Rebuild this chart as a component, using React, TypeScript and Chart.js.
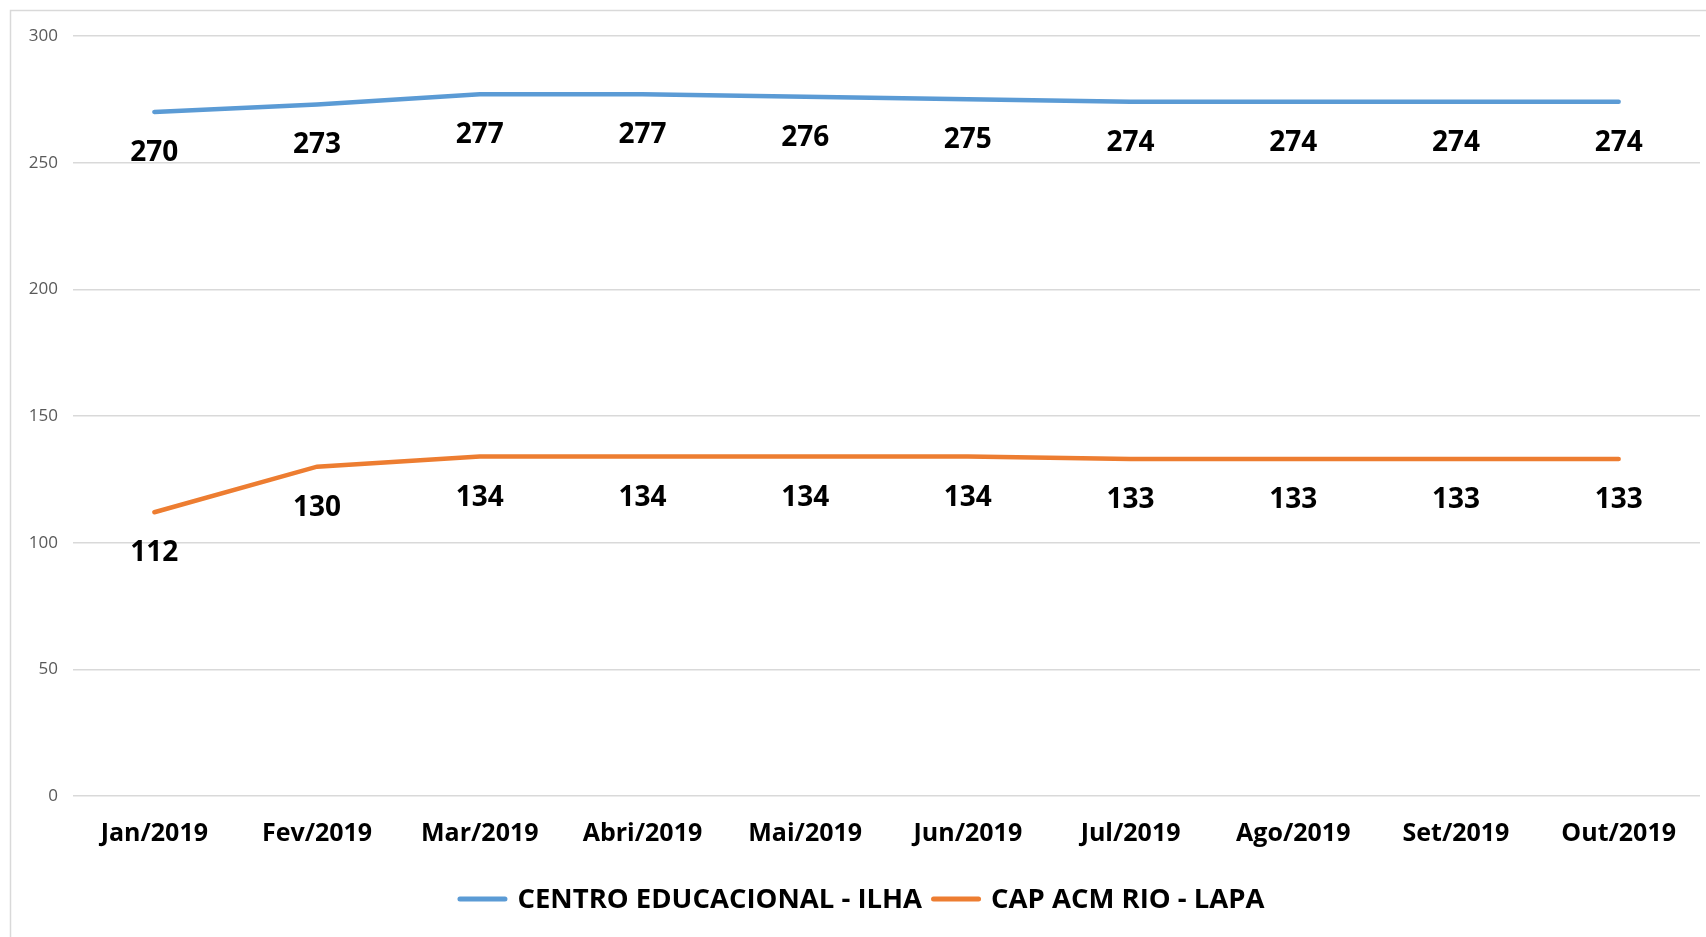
import React, { useEffect, useRef } from "react";
import { Chart, registerables } from "chart.js";

Chart.register(...registerables);

const months = ["Jan/2019", "Fev/2019", "Mar/2019", "Abri/2019", "Mai/2019", "Jun/2019", "Jul/2019", "Ago/2019", "Set/2019", "Out/2019"];
const seriesIlhaName = "CENTRO EDUCACIONAL - ILHA";
const seriesIlha = [270, 273, 277, 277, 276, 275, 274, 274, 274, 274];
const seriesLapaName = "CAP ACM RIO - LAPA";
const seriesLapa = [112, 130, 134, 134, 134, 134, 133, 133, 133, 133];
const yTicks = [0, 50, 100, 150, 200, 250, 300];

const FONT = "'Open Sans', 'Liberation Sans', sans-serif";

const framePlugin = {
  id: "frame",
  beforeDraw(chart: any) {
    const ctx = chart.ctx;
    ctx.save();
    ctx.fillStyle = "#ffffff";
    ctx.fillRect(0, 0, chart.width, chart.height);
    ctx.strokeStyle = "#d9d9d9";
    ctx.lineWidth = 1.5;
    ctx.strokeRect(10.5, 10.5, chart.width + 50, chart.height + 50);
    ctx.restore();
  },
};

const valueLabels = {
  id: "valueLabels",
  afterDatasetsDraw(chart: any) {
    const ctx = chart.ctx;
    ctx.save();
    ctx.font = `bold 28px ${FONT}`;
    ctx.fillStyle = "#000000";
    ctx.textAlign = "center";
    ctx.textBaseline = "middle";
    chart.data.datasets.forEach((ds: any, i: number) => {
      const meta = chart.getDatasetMeta(i);
      meta.data.forEach((pt: any, j: number) => {
        ctx.fillText(String(ds.data[j]), pt.x, pt.y + 41);
      });
    });
    ctx.restore();
  },
};

// Custom legend drawn below the axis labels
const customLegend = {
  id: "customLegend",
  afterDraw(chart: any) {
    const ctx = chart.ctx;
    ctx.save();
    ctx.font = `bold 27.5px ${FONT}`;
    ctx.textBaseline = "middle";
    ctx.textAlign = "left";
    const boxW = 50;
    const gapBoxText = 10;
    const gapItems = 9;
    const items = chart.data.datasets.map((ds: any) => ({
      label: ds.label,
      color: ds.borderColor,
      w: boxW + gapBoxText + ctx.measureText(ds.label).width,
    }));
    const total = items.reduce((a: number, it: any) => a + it.w, 0) + gapItems * (items.length - 1);
    const cx = (10 + chart.width) / 2 + 3;
    let x = cx - total / 2;
    const y = chart.chartArea.bottom + 103;
    items.forEach((it: any) => {
      ctx.strokeStyle = it.color;
      ctx.lineWidth = 5;
      ctx.lineCap = "round";
      ctx.beginPath();
      ctx.moveTo(x + 2.5, y);
      ctx.lineTo(x + boxW - 2.5, y);
      ctx.stroke();
      ctx.fillStyle = "#000000";
      ctx.fillText(it.label, x + boxW + gapBoxText, y + 1);
      x += it.w + gapItems;
    });
    ctx.restore();
  },
};

export default function App() {
  const ref = useRef<HTMLCanvasElement | null>(null);
  useEffect(() => {
    if (!ref.current) return;
    const chart = new Chart(ref.current, {
      type: "line",
      data: {
        labels: months,
        datasets: [
          {
            label: seriesIlhaName,
            data: seriesIlha,
            borderColor: "#5B9BD5",
            backgroundColor: "#5B9BD5",
            borderWidth: 4.5,
            borderCapStyle: "round",
            pointRadius: 0,
            tension: 0,
          },
          {
            label: seriesLapaName,
            data: seriesLapa,
            borderColor: "#ED7D31",
            backgroundColor: "#ED7D31",
            borderWidth: 4.5,
            borderCapStyle: "round",
            pointRadius: 0,
            tension: 0,
          },
        ],
      },
      options: {
        responsive: false,
        animation: false,
        devicePixelRatio: 1,
        layout: { padding: { top: 36, left: 0, right: 6, bottom: 81 } },
        plugins: {
          tooltip: { enabled: false },
          legend: { display: false },
        },
        scales: {
          x: {
            offset: true,
            afterFit: (s: any) => {
              s.height = 60;
            },
            grid: { display: false, drawTicks: false },
            border: { display: false },
            ticks: {
              color: "#000000",
              font: { family: FONT, size: 25, weight: "bold" },
              padding: 23,
              maxRotation: 0,
              autoSkip: false,
            },
          },
          y: {
            min: 0,
            max: 300,
            afterBuildTicks: (s: any) => {
              s.ticks = yTicks.map((v) => ({ value: v }));
            },
            afterFit: (s: any) => {
              s.width = 73;
            },
            grid: { color: "#d9d9d9", lineWidth: 1.5, drawTicks: false },
            border: { display: false },
            ticks: {
              color: "#595959",
              font: { family: FONT, size: 17 },
              padding: 15,
            },
          },
        },
      },
      plugins: [framePlugin, valueLabels, customLegend],
    });
    return () => chart.destroy();
  }, []);
  return (
    <div style={{ position: "absolute", left: 0, top: 0, width: 1706, height: 937 }}>
      <canvas ref={ref} width={1706} height={937} style={{ display: "block" }} />
    </div>
  );
}
